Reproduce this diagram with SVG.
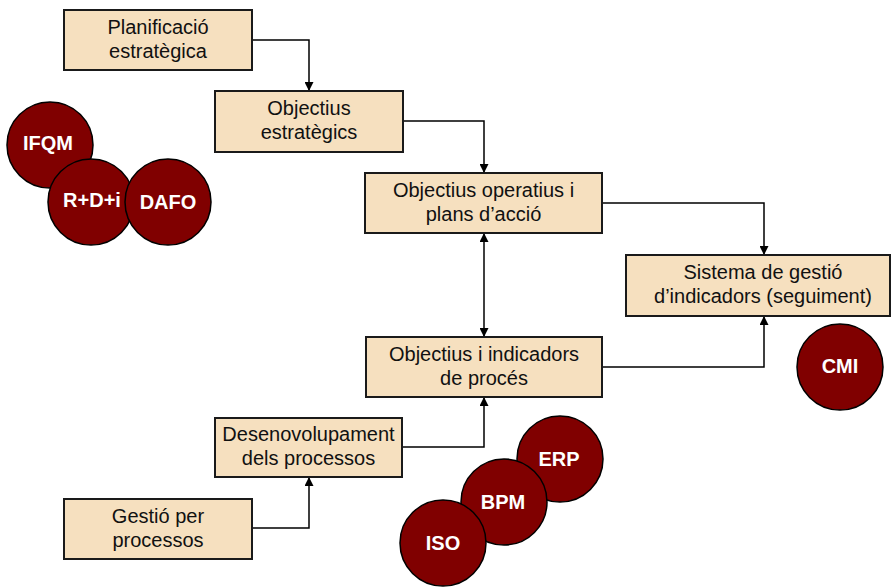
<svg xmlns="http://www.w3.org/2000/svg" width="892" height="587" viewBox="0 0 892 587">
<defs>
<marker id="ah" viewBox="0 0 10 10" refX="10" refY="5" markerWidth="10" markerHeight="9" markerUnits="userSpaceOnUse" orient="auto-start-reverse">
<path d="M0,0 L10,5 L0,10 z" fill="#000"/>
</marker>
<style>
.box{fill:#F6E0BF;stroke:#1a1a1a;stroke-width:2}
.bt{font-family:"Liberation Sans",Arial,sans-serif;font-size:20px;fill:#111;text-anchor:middle}
.c{fill:#800000;stroke:#000;stroke-width:1.5}
.ct{font-family:"Liberation Sans",Arial,sans-serif;font-size:20px;font-weight:bold;fill:#fff;text-anchor:middle}
.ln{fill:none;stroke:#000;stroke-width:1.5}
</style>
</defs>
<rect width="892" height="587" fill="#fff"/>
<g id="connectors">
<path class="ln" d="M252,40 H309 V91" marker-end="url(#ah)"/>
<path class="ln" d="M403,121 H484 V173" marker-end="url(#ah)"/>
<path class="ln" d="M602,203 H764 V255" marker-end="url(#ah)"/>
<path class="ln" d="M484,233 V337" marker-start="url(#ah)" marker-end="url(#ah)"/>
<path class="ln" d="M602,367 H764 V316" marker-end="url(#ah)"/>
<path class="ln" d="M402,447 H484 V397" marker-end="url(#ah)"/>
<path class="ln" d="M252,528 H309 V477" marker-end="url(#ah)"/>
</g>
<g id="planificacio">
<rect class="box" x="64" y="10" width="188" height="60"/>
<text class="bt" x="158" y="34">Planificació</text>
<text class="bt" x="158" y="58">estratègica</text>
</g>
<g id="objectius-estrategics">
<rect class="box" x="215" y="91" width="188" height="61"/>
<text class="bt" x="309" y="115">Objectius</text>
<text class="bt" x="309" y="139">estratègics</text>
</g>
<g id="objectius-operatius">
<rect class="box" x="365" y="173" width="237" height="60"/>
<text class="bt" x="483.5" y="197">Objectius operatius i</text>
<text class="bt" x="483.5" y="221">plans d’acció</text>
</g>
<g id="sistema-gestio">
<rect class="box" x="626" y="255" width="264" height="61"/>
<text class="bt" x="763" y="279">Sistema de gestió</text>
<text class="bt" x="763" y="303">d’indicadors (seguiment)</text>
</g>
<g id="objectius-proces">
<rect class="box" x="366" y="337" width="236" height="60"/>
<text class="bt" x="484" y="361">Objectius i indicadors</text>
<text class="bt" x="484" y="385">de procés</text>
</g>
<g id="desenvolupament">
<rect class="box" x="215" y="418" width="187" height="59"/>
<text class="bt" x="308.5" y="441">Desenovolupament</text>
<text class="bt" x="308.5" y="465">dels processos</text>
</g>
<g id="gestio-processos">
<rect class="box" x="64" y="499" width="188" height="60"/>
<text class="bt" x="158" y="523">Gestió per</text>
<text class="bt" x="158" y="547">processos</text>
</g>
<g id="ifqm"><circle class="c" cx="50" cy="145" r="43"/><text class="ct" x="48" y="150">IFQM</text></g>
<g id="rdi"><circle class="c" cx="91" cy="202" r="43"/><text class="ct" x="92" y="207">R+D+i</text></g>
<g id="dafo"><circle class="c" cx="168" cy="202" r="43"/><text class="ct" x="168" y="209">DAFO</text></g>
<g id="cmi"><circle class="c" cx="840" cy="367" r="43"/><text class="ct" x="840" y="373">CMI</text></g>
<g id="erp"><circle class="c" cx="560" cy="459" r="43"/><text class="ct" x="559" y="466">ERP</text></g>
<g id="bpm"><circle class="c" cx="504" cy="502" r="43"/><text class="ct" x="503" y="509">BPM</text></g>
<g id="iso"><circle class="c" cx="443" cy="543" r="43"/><text class="ct" x="443" y="550">ISO</text></g>
</svg>
